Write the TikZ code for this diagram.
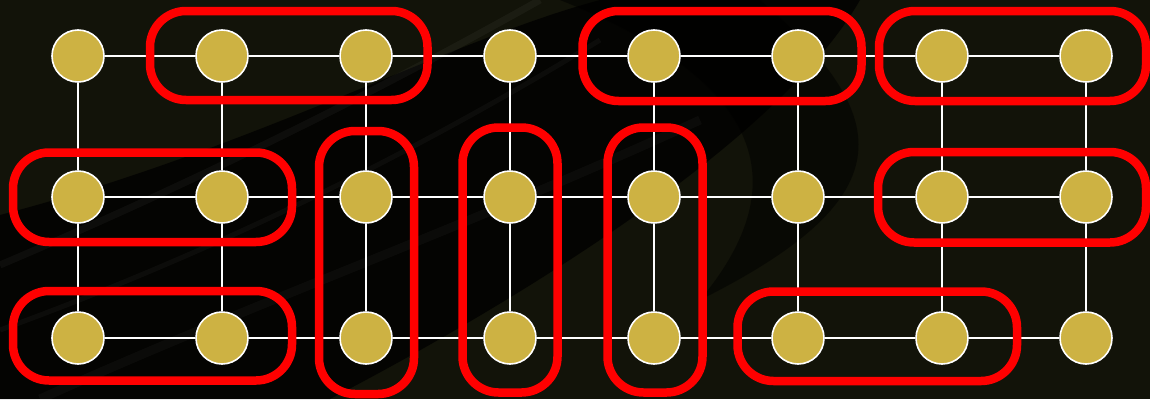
\documentclass[tikz,border=0pt]{standalone}
\usetikzlibrary{calc}
\definecolor{gold}{HTML}{CDB243}
\definecolor{bgolive}{HTML}{121309}
\definecolor{loopred}{HTML}{FF0000}
\begin{document}
\begin{tikzpicture}[x=1pt,y=-1pt,
  vertex/.style={circle, fill=gold, draw=white, line width=1.6pt, minimum size=52pt, inner sep=0pt},
  link/.style={draw=white, line width=1.6pt},
  group/.style={draw=loopred, line width=8.5pt, rounded corners=36pt}]
\useasboundingbox (0,0) rectangle (1150,399);
% dark backdrop with a diagonal shadow sweep
\fill[bgolive] (0,0) rectangle (1150,399);
\fill[black, opacity=0.75] (0,215) .. controls (250,150) and (450,40) .. (600,0)
  -- (860,0) .. controls (780,140) and (520,300) .. (330,399) -- (0,399) -- cycle;
\fill[black, opacity=0.5] (560,0) -- (760,0) .. controls (900,120) and (900,200) .. (700,300)
  .. controls (800,180) and (760,80) .. (560,0) -- cycle;
\draw[white, opacity=0.04, line width=7pt] (0,265) .. controls (200,180) and (380,90) .. (540,0);
\draw[white, opacity=0.035, line width=5pt] (0,330) .. controls (220,250) and (420,150) .. (600,40);
\draw[white, opacity=0.03, line width=9pt] (40,399) .. controls (260,300) and (460,230) .. (700,120);

% lattice vertices
\foreach \r/\y in {1/56,2/197,3/338}
  \foreach \c in {1,...,8}
    \node[vertex] (n\r\c) at ({78+144*(\c-1)},\y) {};

% horizontal links
\foreach \r in {1,2,3}
  \foreach \a/\b in {1/2,2/3,3/4,4/5,5/6,6/7,7/8}
    \draw[link] (n\r\a) -- (n\r\b);
% vertical links
\foreach \c in {1,...,8} {
  \draw[link] (n1\c) -- (n2\c);
  \draw[link] (n2\c) -- (n3\c);
}

% red pairings (dimers)
\draw[group] ($(n12)+(-72,-45)$) rectangle ($(n13)+(61.5,44)$);
\draw[group] ($(n15)+(-71.5,-45)$) rectangle ($(n16)+(63.5,45)$);
\draw[group] ($(n17)+(-63,-45)$) rectangle ($(n18)+(60,45)$);
\draw[group] ($(n21)+(-65,-44.5)$) rectangle ($(n22)+(70,45)$);
\draw[group] ($(n27)+(-64,-45)$) rectangle ($(n28)+(60,45.5)$);
\draw[group] ($(n31)+(-65,-47)$) rectangle ($(n32)+(70,42.5)$);
\draw[group] ($(n36)+(-60.5,-46.5)$) rectangle ($(n37)+(75,43)$);
\draw[group] ($(n23)+(-47,-66)$) rectangle ($(n33)+(48,56)$);
\draw[group] ($(n24)+(-47.5,-69.5)$) rectangle ($(n34)+(47.5,54.5)$);
\draw[group] ($(n25)+(-46.5,-69.5)$) rectangle ($(n35)+(48.5,54.5)$);
\end{tikzpicture}
\end{document}
